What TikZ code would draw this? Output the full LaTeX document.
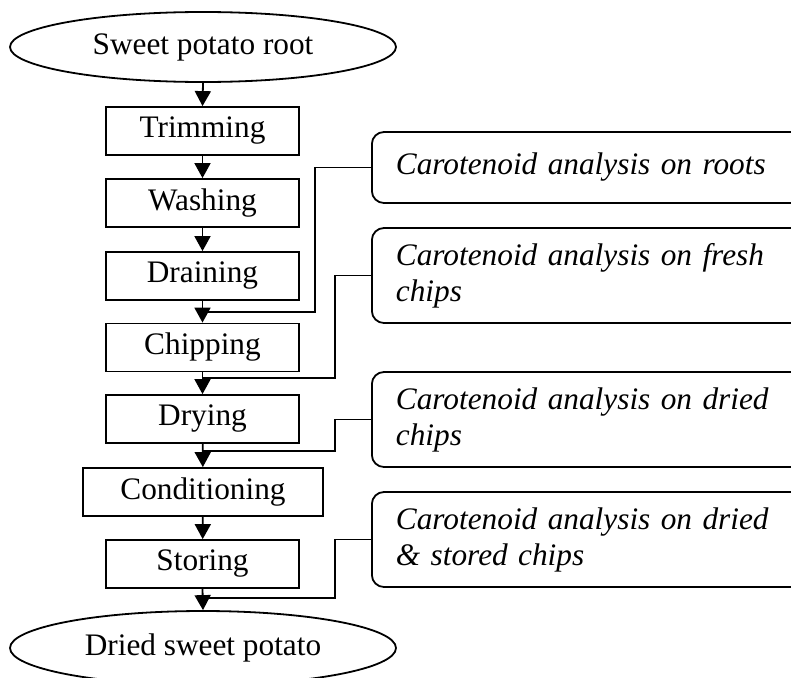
\documentclass[tikz,border=0pt]{standalone}
\usepackage{fontspec}
\setmainfont{Liberation Serif}
\usetikzlibrary{shapes.geometric,arrows.meta}
\begin{document}
\begin{tikzpicture}[x=1pt,y=-1pt,
  every node/.style={font=\fontsize{31.3}{36}\selectfont},
  stepbox/.style={draw,line width=1.8pt,rectangle,minimum height=48pt,inner sep=0pt,anchor=center},
  oval/.style={draw,line width=1.8pt,ellipse,inner sep=0pt,anchor=center},
  note/.style={draw,line width=1.8pt,rounded corners=12pt,anchor=west,inner xsep=24pt,inner ysep=0pt,text width=420pt,align=left,font=\fontsize{31.3}{36}\selectfont\itshape},
  arr/.style={line width=1.8pt,-{Triangle[length=15pt,width=16pt]}},
  link/.style={line width=1.8pt}]
\useasboundingbox (0,0) rectangle (791,677);
\clip (0,0) rectangle (791,677);
% main flow
\node[oval,minimum width=386pt,minimum height=70pt] (e1) at (203,47) {Sweet potato root};
\node[stepbox,minimum width=193pt] (s1) at (202.5,131) {Trimming};
\node[stepbox,minimum width=193pt] (s2) at (202.5,203) {Washing};
\node[stepbox,minimum width=193pt] (s3) at (202.5,276) {Draining};
\node[stepbox,minimum width=193pt] (s4) at (202.5,347.5) {Chipping};
\node[stepbox,minimum width=193pt] (s5) at (202.5,419) {Drying};
\node[stepbox,minimum width=240pt] (s6) at (203,492) {Conditioning};
\node[stepbox,minimum width=193pt] (s7) at (202.5,564) {Storing};
\node[oval,minimum width=386pt,minimum height=74pt] (e2) at (203,648) {Dried sweet potato};
\draw[arr] (e1.south) -- (s1.north);
\draw[arr] (s1) -- (s2);
\draw[arr] (s2) -- (s3);
\draw[arr] (s3) -- (s4);
\draw[arr] (s4) -- (s5);
\draw[arr] (s5) -- (s6);
\draw[arr] (s6) -- (s7);
\draw[arr] (s7.south) -- (e2.north);
% analysis notes
\node[note,minimum height=71pt] (r1) at (371,167.5) {Carotenoid analysis on roots};
\node[note,minimum height=95pt] (r2) at (371,275.5) {Carotenoid analysis on fresh\\chips};
\node[note,minimum height=95pt] (r3) at (371,419.5) {Carotenoid analysis on dried\\chips};
\node[note,minimum height=95pt] (r4) at (371,539.5) {Carotenoid analysis on dried\\\& stored chips};
% junction points on the main arrows
\coordinate (j1) at (203,312);
\coordinate (j2) at (203,378);
\coordinate (j3) at (203,451);
\coordinate (j4) at (203,598);
\coordinate (k1) at (315,312);
\coordinate (k2) at (335,378);
\coordinate (k3) at (335,451);
\coordinate (k4) at (335,598);
\draw[link] (r1.west) -| (k1) -- (j1);
\draw[link] (r2.west) -| (k2) -- (j2);
\draw[link] (r3.west) -| (k3) -- (j3);
\draw[link] (r4.west) -| (k4) -- (j4);
\end{tikzpicture}
\end{document}
